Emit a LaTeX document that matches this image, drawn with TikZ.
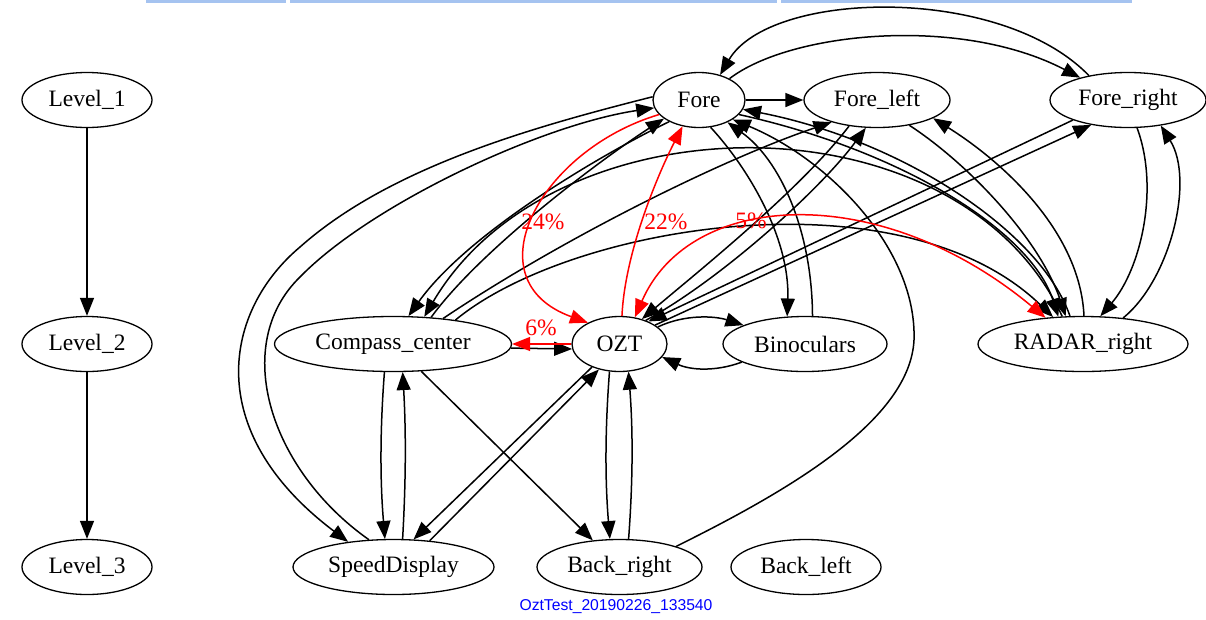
\documentclass[tikz,border=0pt]{standalone}
\usepackage{fontspec}
\setmainfont{Liberation Serif}
\newfontfamily\capfont{Liberation Sans}
\usetikzlibrary{arrows.meta,shapes.geometric}
\definecolor{barblue}{RGB}{165,195,240}
\begin{document}
\begin{tikzpicture}[x=1pt,y=-1pt,
  nd/.style={ellipse, draw, line width=1.3pt, minimum height=55pt, inner sep=0pt, font=\fontsize{23.5}{25}\selectfont},
  tip/.tip={Triangle[length=18pt,width=14pt]},
  e/.style={line width=1.5pt, -tip},
  re/.style={e, red},
  lbl/.style={text=red, inner sep=0pt, font=\fontsize{23.5}{25}\selectfont},
]
\useasboundingbox[fill=white] (0,0) rectangle (1206,619);
% top bar
\fill[barblue] (146,0) rectangle (286,2.5);
\fill[barblue] (290,0) rectangle (777,2.5);
\fill[barblue] (781,0) rectangle (1132,2.5);

% nodes
\node[nd, minimum width=130pt] (L1) at (87,100) {Level\_1};
\node[nd, minimum width=130pt] (L2) at (87,344) {Level\_2};
\node[nd, minimum width=130pt] (L3) at (87,567) {Level\_3};
\node[nd, minimum width=92pt]  (Fore) at (699,100) {Fore};
\node[nd, minimum width=146pt] (FL) at (877,100) {Fore\_left};
\node[nd, minimum width=156pt] (FR) at (1128,100) {Fore\_right};
\node[nd, minimum width=237pt] (CC) at (393,344) {Compass\_center};
\node[nd, minimum width=95pt]  (OZT) at (619.5,344) {OZT};
\node[nd, minimum width=164pt] (Bin) at (805,344) {Binoculars};
\node[nd, minimum width=210pt] (RAD) at (1083,344) {RADAR\_right};
\node[nd, minimum width=201pt] (SD) at (393.5,567) {SpeedDisplay};
\node[nd, minimum width=165pt] (BR) at (619.5,567) {Back\_right};
\node[nd, minimum width=150pt] (BL) at (806,567) {Back\_left};
\node[text=blue, font=\capfont\fontsize{15.7}{17}\selectfont] (cap) at (616,607) {OztTest\_20190226\_133540};

% level chain
\draw[e] (L1) -- (L2);
\draw[e] (L2) -- (L3);

% Fore edges
\draw[e] (Fore) -- (FL);
\draw[e] (Fore.35) .. controls (790,32) and (960,15) .. (FR.155);
\draw[e] (FR.148) .. controls (1000,-16) and (770,-10) .. (Fore.50);
\draw[e] (Fore.176) .. controls (533,127) and (390,167) .. (300,247) .. controls (225,310) and (200,430) .. (SD.151);
\draw[e] (SD.132) .. controls (270,470) and (230,345) .. (300,277) .. controls (370,205) and (540,125) .. (Fore.190);
\draw[e] (Fore.216) .. controls (610,150) and (470,230) .. (CC.61.2);
\draw[e] (CC.35.2) .. controls (480,250) and (600,160) .. (Fore.208);
\draw[e] (Fore.-67) .. controls (750,170) and (790,240) .. (Bin.123.9);
\draw[e] (Bin.75.7) .. controls (812,230) and (780,160) .. (Fore.-38);
\draw[e] (BR.20) .. controls (790,490) and (910,420) .. (914,340) .. controls (917,250) and (830,160) .. (Fore.-30);
\draw[e] (Fore.-20) .. controls (900,150) and (1030,230) .. (RAD.132);
\draw[e] (RAD.115) .. controls (1040,230) and (900,140) .. (Fore.-12);

% Compass edges
\draw[e] (CC.27) .. controls (560,240) and (720,160) .. (FL.206.5);
\draw[e] (RAD.127) .. controls (959,93) and (555,95) .. (CC.41.6);
\draw[e] (CC.21.6) .. controls (570,225) and (900,170) .. (RAD.138);
\draw[e] (CC.-2.5) -- (OZT.186);
\draw[e] (CC.253.7) .. controls (380,430) and (380,480) .. (SD.107.2);
\draw[e] (SD.72.8) .. controls (406,480) and (406,430) .. (CC.-71.8);
\draw[e] (CC.-44.8) -- (BR.135.5);

% OZT edges
\draw[e] (OZT.24.3) .. controls (685,314) and (715,316) .. (Bin.163.8);
\draw[e] (Bin.196.2) .. controls (715,372) and (690,370) .. (OZT.-17);
\draw[e] (OZT.250.6) .. controls (605,430) and (605,480) .. (BR.109.2);
\draw[e] (BR.72.7) .. controls (633,480) and (633,430) .. (OZT.-72.6);
\draw[e] (OZT.220.7) -- (SD.54.2);
\draw[e] (SD.36.8) -- (OZT.231.3);
\draw[e] (OZT.42) .. controls (720,280) and (820,190) .. (FL.248);
\draw[e] (FL.223.4) .. controls (800,190) and (700,270) .. (OZT.48);
\draw[e] (OZT.28) -- (FR.-146);
\draw[e] (FR.-160) -- (OZT.38);

% Fore_left / Fore_right / RADAR
\draw[e] (FL.-38.8) .. controls (970,165) and (1040,240) .. (RAD.122);
\draw[e] (RAD.88) .. controls (1080,230) and (1000,160) .. (FL.-18);
\draw[e] (FR.-72) .. controls (1160,190) and (1140,270) .. (RAD.58);
\draw[e] (RAD.33) .. controls (1170,280) and (1195,180) .. (FR.-38);

% red edges
\draw[re] (Fore.200) .. controls (540,150) and (470,280) .. (OZT.146);
\draw[re] (OZT.85) .. controls (625,250) and (660,170) .. (Fore.238);
\draw[re, tip-tip] (OZT.60) .. controls (690,190) and (880,180) .. (RAD.145.5);
\draw[re] (OZT.180) -- (CC.0);

% labels
\node[lbl] (l24) at (543,222) {24\%};
\node[lbl] (l22) at (666,222) {22\%};
\node[lbl] (l5) at (751,221) {5\%};
\node[lbl] (l6) at (541,328) {6\%};
\end{tikzpicture}
\end{document}
